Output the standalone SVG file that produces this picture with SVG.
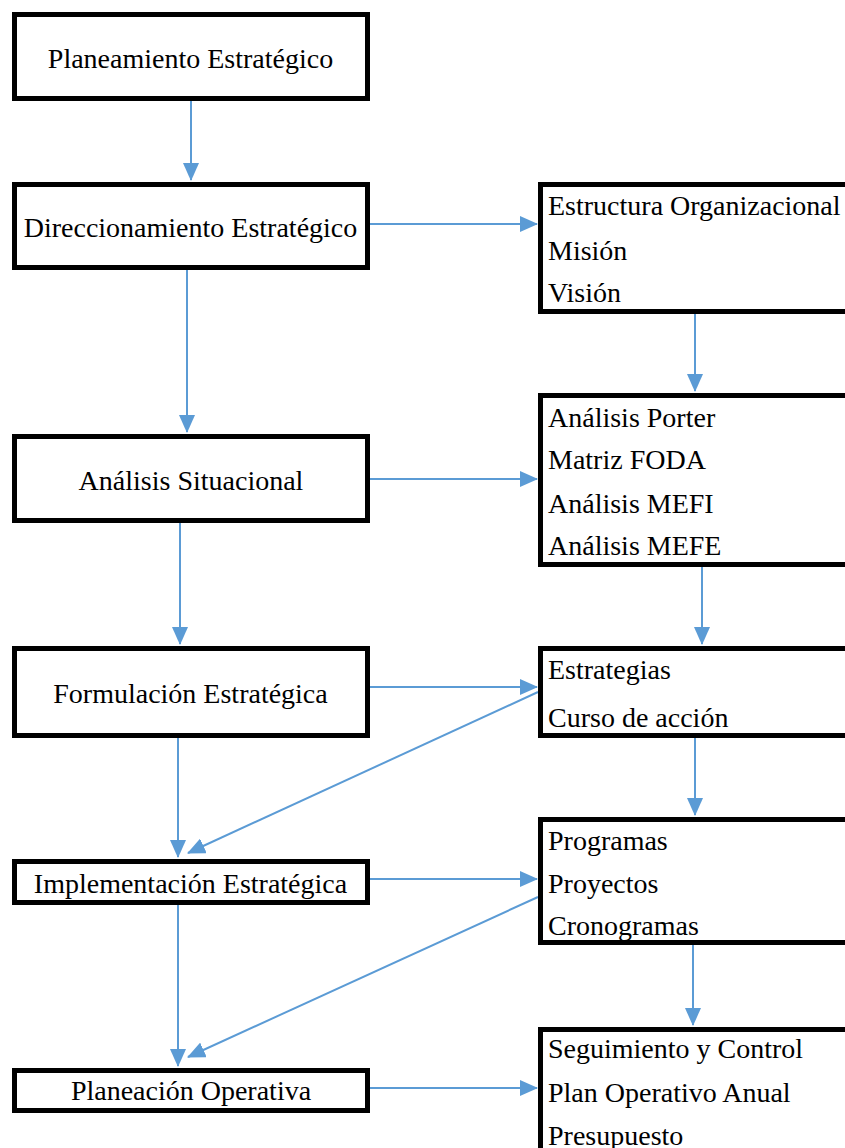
<svg xmlns="http://www.w3.org/2000/svg" width="845" height="1148" viewBox="0 0 845 1148">
<style>
.box{fill:#fff;stroke:#000;stroke-width:5}
.t{font-family:"Liberation Serif","DejaVu Serif","Times New Roman",serif;font-size:28px;fill:#000}
.c{text-anchor:middle}
.ln{stroke:#5B9BD5;stroke-width:2;fill:none;marker-end:url(#ah)}
</style>
<defs>
<marker id="ah" markerUnits="userSpaceOnUse" markerWidth="18" markerHeight="16" refX="17" refY="8" orient="auto">
<path d="M0,0 L18,8 L0,16 z" fill="#5B9BD5"/>
</marker>
</defs>
<g id="connectors">
<line class="ln" x1="191" y1="101" x2="191" y2="180"/>
<line class="ln" x1="370" y1="224" x2="537" y2="224"/>
<line class="ln" x1="187" y1="270" x2="187" y2="432"/>
<line class="ln" x1="695" y1="314" x2="695" y2="391"/>
<line class="ln" x1="370" y1="479" x2="537" y2="479"/>
<line class="ln" x1="180" y1="523" x2="180" y2="644"/>
<line class="ln" x1="702" y1="567" x2="702" y2="644"/>
<line class="ln" x1="370" y1="687" x2="537" y2="687"/>
<line class="ln" x1="538" y1="692" x2="188" y2="853"/>
<line class="ln" x1="178" y1="738" x2="178" y2="857"/>
<line class="ln" x1="695" y1="738" x2="695" y2="815"/>
<line class="ln" x1="370" y1="879" x2="537" y2="879"/>
<line class="ln" x1="538" y1="897" x2="188" y2="1057"/>
<line class="ln" x1="178" y1="905" x2="178" y2="1066"/>
<line class="ln" x1="693" y1="945" x2="693" y2="1025"/>
<line class="ln" x1="370" y1="1088" x2="537" y2="1088"/>
</g>
<g id="n1"><rect class="box" x="14.5" y="14.5" width="353" height="84"/><text class="t c" font-family="Liberation Serif, serif" x="190.5" y="68">Planeamiento Estratégico</text></g>
<g id="n2"><rect class="box" x="14.5" y="184.5" width="353" height="83"/><text class="t c" font-family="Liberation Serif, serif" x="190.5" y="237">Direccionamiento Estratégico</text></g>
<g id="n3"><rect class="box" x="14.5" y="436.5" width="353" height="84"/><text class="t c" font-family="Liberation Serif, serif" x="191" y="490">Análisis Situacional</text></g>
<g id="n4"><rect class="box" x="14.5" y="648.5" width="353" height="87"/><text class="t c" font-family="Liberation Serif, serif" x="190.5" y="703">Formulación Estratégica</text></g>
<g id="n5"><rect class="box" x="14.5" y="861.5" width="353" height="41"/><text class="t c" font-family="Liberation Serif, serif" x="190.5" y="893">Implementación Estratégica</text></g>
<g id="n6"><rect class="box" x="14.5" y="1070.5" width="353" height="40"/><text class="t c" font-family="Liberation Serif, serif" x="191" y="1100">Planeación Operativa</text></g>
<g id="r1" font-family="Liberation Serif, serif"><rect class="box" x="540.5" y="184.5" width="310" height="127"/>
<text class="t" x="548" y="215">Estructura Organizacional</text>
<text class="t" x="548" y="260">Misión</text>
<text class="t" x="548" y="302">Visión</text></g>
<g id="r2"><rect class="box" x="540.5" y="395.5" width="310" height="169"/>
<text class="t" x="548" y="427">Análisis Porter</text>
<text class="t" x="548" y="469">Matriz FODA</text>
<text class="t" x="548" y="513">Análisis MEFI</text>
<text class="t" x="548" y="555">Análisis MEFE</text></g>
<g id="r3"><rect class="box" x="540.5" y="648.5" width="310" height="87"/>
<text class="t" x="548" y="679">Estrategias</text>
<text class="t" x="548" y="727">Curso de acción</text></g>
<g id="r4"><rect class="box" x="540.5" y="819.5" width="310" height="123"/>
<text class="t" x="548" y="850">Programas</text>
<text class="t" x="548" y="893">Proyectos</text>
<text class="t" x="548" y="935">Cronogramas</text></g>
<g id="r5"><rect class="box" x="540.5" y="1029.5" width="310" height="140"/>
<text class="t" x="548" y="1058">Seguimiento y Control</text>
<text class="t" x="548" y="1102">Plan Operativo Anual</text>
<text class="t" x="548" y="1145">Presupuesto</text></g>
</svg>
